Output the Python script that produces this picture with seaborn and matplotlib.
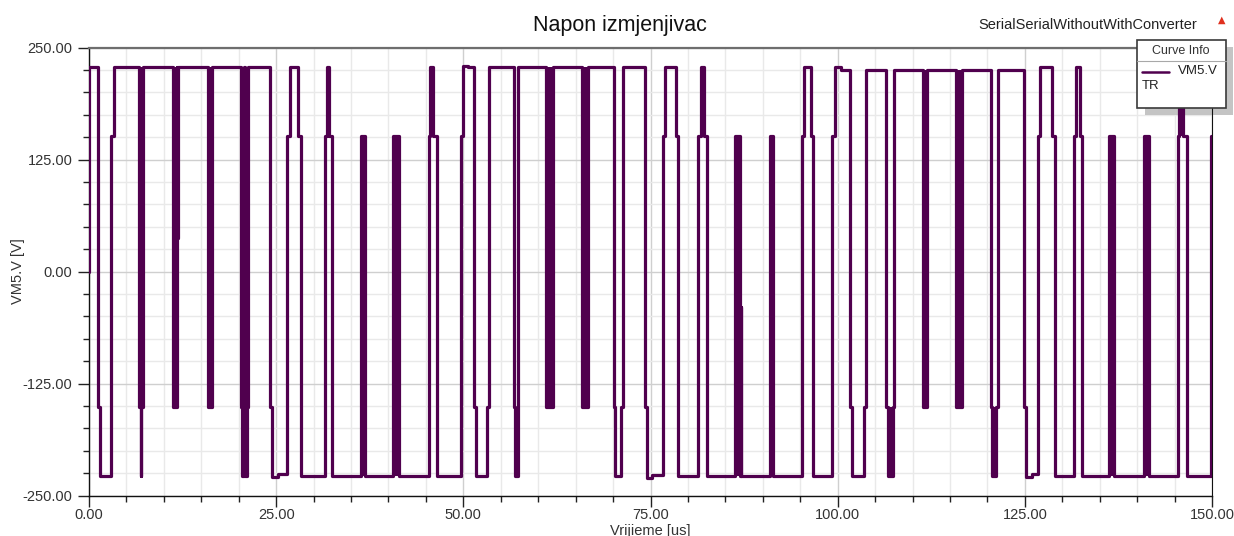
import matplotlib
matplotlib.use("Agg")
import matplotlib.pyplot as plt
import matplotlib.patches as mpatches
from matplotlib.lines import Line2D
from matplotlib.ticker import MultipleLocator, FormatStrFormatter
import seaborn as sns

sns.set_theme(style="white")
plt.rcParams['font.family'] = ['Liberation Sans', 'DejaVu Sans']

# switching instants [us] and output level after each one [V]
times = [0.0, 0.05, 1.15, 1.45, 3.0, 3.35,
         6.68, 6.92, 7.0, 7.25,
         11.27, 11.78, 11.82, 11.86,
         15.84, 16.37,
         20.3, 20.45, 20.75, 20.82, 21.1, 21.2,
         24.2, 24.45, 25.3, 26.5, 26.8, 27.95, 28.35,
         31.5, 31.73, 32.08, 32.4,
         36.3, 36.9,
         40.65, 41.45,
         45.4, 45.6, 46.0, 46.5,
         49.7, 50.0, 50.6,
         51.4, 51.7, 53.2, 53.45,
         56.8, 56.9, 57.25, 57.35,
         61.1, 62.0,
         65.8, 66.6,
         70.1, 70.25, 71.05, 71.35,
         74.25, 74.5, 75.2, 76.7, 76.95, 78.35, 78.7,
         81.4, 81.7, 82.15, 82.5,
         86.3, 86.95, 87.05, 87.1,
         90.95, 91.4,
         95.3, 95.5, 96.5, 96.75,
         99.3, 99.65, 100.5,
         101.6, 101.95, 103.55, 103.75,
         106.5, 106.75, 107.4, 107.55,
         111.45, 111.9,
         115.8, 116.55,
         120.45, 120.55, 121.2, 121.35,
         124.9, 125.15, 126.0, 126.7, 127.0, 128.6, 129.0,
         131.6, 131.8, 132.35, 132.6,
         136.25, 136.95,
         140.95, 141.6,
         145.4, 145.6, 146.15, 146.6,
         149.85, 150.0]
volts = [0, 228, -151, -228, 151, 228,
         -151, -228, -151, 228,
         -151, 228, 37, 228,
         -151, 228,
         -151, -228, 228, -228, -151, 228,
         -151, -229, -226, 151, 228, 151, -228,
         151, 228, 151, -228,
         151, -228,
         151, -228,
         151, 228, 151, -228,
         151, 230, 228,
         -151, -228, -151, 228,
         -151, -228, -151, 228,
         -151, 228,
         -151, 228,
         -151, -228, -151, 228,
         -151, -230, -227, 151, 228, 151, -228,
         151, 228, 151, -228,
         151, -228, -40, -228,
         151, -228,
         151, 228, 151, -228,
         151, 228, 225,
         -151, -228, -151, 225,
         -151, -228, -151, 225,
         -151, 225,
         -151, 225,
         -151, -228, -151, 225,
         -151, -229, -226, 151, 228, 151, -228,
         151, 228, 151, -228,
         151, -228,
         151, -228,
         151, 228, 151, -228,
         151, 151]

# fast switching bursts (drawn as solid bars)
burst_start = [6.68, 11.27, 15.84, 31.73, 36.3, 40.65, 56.9, 61.1, 65.8,
               86.3, 90.95, 106.75, 111.45, 115.8, 120.55, 136.25, 140.95, 145.6]
burst_end = [7.25, 11.78, 16.37, 32.08, 36.9, 41.45, 57.25, 62.0, 66.6,
             86.95, 91.4, 107.4, 111.9, 116.55, 121.2, 136.95, 141.6, 146.15]
burst_low = [-151, -151, -151, 151, -228, -228, -228, -151, -151,
             -228, -228, -228, -151, -151, -228, -228, -228, 151]
burst_high = [228, 228, 228, 228, 151, 151, -151, 228, 228,
              151, 151, -151, 225, 225, -151, 151, 151, 228]

purple = '#50004e'
W, H = 1234, 536

fig = plt.figure(figsize=(12.34, 5.36), dpi=100)
ax = fig.add_axes([89 / W, 1 - 495.5 / H, (1212 - 89) / W, (495.5 - 47.7) / H])

sns.lineplot(x=times, y=volts, ax=ax, color=purple, lw=2.3,
             drawstyle='steps-post', estimator=None, sort=False, zorder=3)
for s, e, lo, hi in zip(burst_start, burst_end, burst_low, burst_high):
    ax.fill_between([s, e], lo, hi, color=purple, lw=0, zorder=3)

ax.set_xlim(0, 150)
ax.set_ylim(-250, 250)
ax.xaxis.set_major_locator(MultipleLocator(25))
ax.xaxis.set_minor_locator(MultipleLocator(5))
ax.yaxis.set_major_locator(MultipleLocator(125))
ax.yaxis.set_minor_locator(MultipleLocator(25))
ax.xaxis.set_major_formatter(FormatStrFormatter('%.2f'))
ax.yaxis.set_major_formatter(FormatStrFormatter('%.2f'))

ax.set_axisbelow(True)
ax.grid(which='major', color='#cfcfcf', lw=1)
ax.grid(which='minor', color='#e9e9e9', lw=1)

ax.tick_params(which='both', direction='out', color='#222222', width=1,
               labelsize=10.5, labelcolor='#333333')
ax.tick_params(which='major', length=8)
ax.tick_params(which='minor', length=4)
ax.tick_params(axis='x', which='both', bottom=True, pad=1)
ax.tick_params(axis='y', which='both', left=True, pad=4)

for side in ['left', 'bottom']:
    ax.spines[side].set_color('#111111')
    ax.spines[side].set_linewidth(1)
ax.spines['right'].set_color('#111111')
ax.spines['right'].set_linewidth(0.8)
ax.spines['top'].set_color('#6e6e6e')
ax.spines['top'].set_linewidth(1.6)

ax.set_xlabel('Vrijieme [us]', fontsize=10.5, color='#333333')
ax.set_ylabel('VM5.V [V]', fontsize=10.5, color='#333333')
ax.xaxis.set_label_coords(0.5, (495.5 - 524) / (495.5 - 47.7))
ax.yaxis.set_label_coords((25 - 89) / (1212 - 89), 0.5)

fig.text(620 / W, 1 - 25 / H, 'Napon izmjenjivac', ha='center', va='center',
         fontsize=15.5, color='#111111')
fig.text(1197 / W, 1 - 25 / H, 'SerialSerialWithoutWithConverter', ha='right',
         va='center', fontsize=10.5, color='#222222')
fig.text(1222 / W, 1 - 20 / H, '▲', ha='center', va='center', fontsize=7,
         color='#e0301e', family=['DejaVu Sans'])

# curve info box with its drop shadow
tf = fig.transFigure
shadow = mpatches.Rectangle((1145 / W, 1 - 115 / H), 88 / W, 68 / H, transform=tf,
                            facecolor='#c4c4c4', edgecolor='none', zorder=1, clip_on=False)
box = mpatches.Rectangle((1137 / W, 1 - 108 / H), 89 / W, 68 / H, transform=tf,
                         facecolor='white', edgecolor='#3a3a3a', lw=1.2, zorder=5, clip_on=False)
ax.add_patch(shadow)
ax.add_patch(box)
ax.add_line(Line2D([1137 / W, 1226 / W], [1 - 61 / H] * 2, transform=tf,
                   color='#a8a8a8', lw=0.8, zorder=6, clip_on=False))
ax.add_line(Line2D([1142 / W, 1169 / W], [1 - 71.5 / H] * 2, transform=tf,
                   color=purple, lw=1.8, zorder=6, clip_on=False))
ax.text(1181 / W, 1 - 51 / H, 'Curve Info', transform=tf, ha='center', va='center',
        fontsize=9, color='#333333', zorder=7, clip_on=False)
ax.text(1178 / W, 1 - 71 / H, 'VM5.V', transform=tf, ha='left', va='center',
        fontsize=9.5, color='#222222', zorder=7, clip_on=False)
ax.text(1142 / W, 1 - 86 / H, 'TR', transform=tf, ha='left', va='center',
        fontsize=9.5, color='#222222', zorder=7, clip_on=False)

fig.savefig('out.png', dpi=100)
